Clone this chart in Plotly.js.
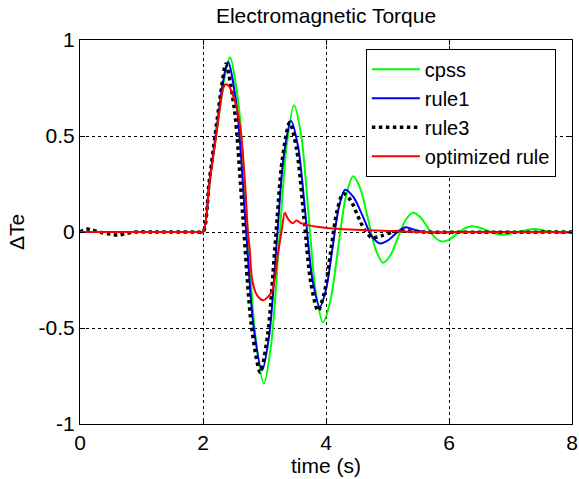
<!DOCTYPE html>
<html><head><meta charset="utf-8">
<script src="https://cdn.plot.ly/plotly-3.0.1.min.js"></script>
<style>body{margin:0;background:#fff}#c{width:579px;height:479px}</style>
</head><body><div id="c"></div>
<script>
// cpss (green)
const cpssT = [0,1,1.9,2.0,2.1,2.2,2.3,2.37,2.44,2.58,2.715,2.85,2.99,3.11,3.235,3.36,3.48,3.6,3.715,3.83,3.95,4.07,4.195,4.32,4.44,4.56,4.685,4.81,4.93,5.05,5.17,5.29,5.41,5.53,5.65,5.77,5.89,6.01,6.13,6.25,6.37,6.5,6.62,6.75,6.88,7.12,7.37,7.6,7.85,8.0];
const cpssY = [0,0,0,0,0.24,0.47,0.70,0.84,0.91,0.66,0.06,-0.54,-0.79,-0.58,-0.065,0.45,0.66,0.495,0.095,-0.305,-0.47,-0.36,-0.09,0.18,0.29,0.225,0.065,-0.095,-0.16,-0.12,-0.03,0.06,0.10,0.078,0.025,-0.028,-0.05,-0.038,-0.01,0.018,0.03,0.022,0.008,-0.008,-0.015,0,0.015,0.005,-0.005,0];
// rule1 (blue)
const rule1T = [0,1,1.9,2.0,2.1,2.2,2.3,2.36,2.41,2.55,2.685,2.82,2.96,3.08,3.195,3.31,3.43,3.55,3.665,3.78,3.9,4.0,4.105,4.21,4.31,4.45,4.6,4.74,4.88,5.0,5.1,5.2,5.3,5.45,5.6,5.8,6.2,8.0];
const rule1Y = [0,0,0,0,0.25,0.49,0.73,0.84,0.885,0.65,0.08,-0.485,-0.72,-0.53,-0.07,0.39,0.58,0.438,0.095,-0.248,-0.39,-0.30,-0.085,0.13,0.22,0.18,0.08,-0.02,-0.06,-0.045,-0.018,0.01,0.025,0.01,0,-0.003,0,0];
// rule3 (black dotted)
const rule3T = [0,0.1,0.2,0.35,0.5,0.62,0.75,0.9,1.2,1.9,2.0,2.1,2.2,2.3,2.37,2.51,2.65,2.79,2.93,3.05,3.17,3.29,3.41,3.525,3.64,3.755,3.87,3.97,4.075,4.18,4.28,4.4,4.515,4.63,4.75,4.9,5.1,5.3,5.6,8.0];
const rule3Y = [0,0.015,0.01,-0.003,-0.012,-0.016,-0.008,0,0,0,0,0.26,0.51,0.75,0.875,0.64,0.07,-0.495,-0.73,-0.54,-0.08,0.38,0.57,0.426,0.08,-0.267,-0.41,-0.32,-0.105,0.11,0.20,0.166,0.085,0.01,-0.03,-0.02,0,0.005,0,0];
// optimized rule (red)
const optT = [0,1,1.9,2.0,2.1,2.2,2.28,2.33,2.37,2.42,2.49,2.6,2.68,2.73,2.76,2.8,2.88,2.98,3.12,3.22,3.28,3.33,3.38,3.46,3.52,3.6,3.85,4.23,5.04,5.6,8.0];
const optY = [0,0,0,0,0.24,0.47,0.66,0.75,0.77,0.76,0.71,0.56,0.27,0,-0.09,-0.25,-0.33,-0.355,-0.31,-0.11,0.01,0.10,0.07,0.045,0.06,0.045,0.027,0.015,0.005,0,0];

const xTicks = [0,2,4,6,8];
const yTicks = [-1,-0.5,0,0.5,1];
const yTickText = ['-1','-0.5','0','0.5','1'];

const sp = {shape:'spline', smoothing:0.8};
const traces = [
  {x:cpssT, y:cpssY, name:'cpss', mode:'lines', line:Object.assign({color:'#00ff00', width:2}, sp)},
  {x:rule1T, y:rule1Y, name:'rule1', mode:'lines', line:Object.assign({color:'#0000ff', width:2}, sp)},
  {x:rule3T, y:rule3Y, name:'rule3', mode:'lines', line:Object.assign({color:'#000000', width:3.5, dash:'dot'}, sp)},
  {x:optT, y:optY, name:'optimized rule', mode:'lines', line:Object.assign({color:'#ff0000', width:2}, sp)}
];
const font = {family:'Liberation Sans, Arial, sans-serif', size:21, color:'#000'};
const ax = {showline:true, linecolor:'#000', linewidth:1, mirror:'ticks', ticks:'inside', ticklen:5, tickcolor:'#000',
  showgrid:true, gridcolor:'#000', gridwidth:1, griddash:'3px,3px', zeroline:false, tickfont:font};
const layout = {
  width:579, height:479,
  margin:{l:80, r:7, t:40, b:55},
  paper_bgcolor:'#fff', plot_bgcolor:'#fff',
  font:font,
  title:{text:'Electromagnetic Torque', font:font, x:0.5, xref:'paper', xanchor:'center', y:0.982, yanchor:'top'},
  xaxis:Object.assign({}, ax, {range:[0,8], tickvals:xTicks, ticktext:xTicks.map(String),
    title:{text:'time (s)', font:font, standoff:2}}),
  yaxis:Object.assign({}, ax, {range:[-1,1], tickvals:yTicks, ticktext:yTickText,
    title:{text:'ΔTe', font:font, standoff:8}}),
  showlegend:true,
  legend:{x:0.581, y:0.977, xanchor:'left', yanchor:'top', bgcolor:'#fff', bordercolor:'#000', borderwidth:1,
    font:{family:font.family, size:20, color:'#000'}, tracegroupgap:0, itemwidth:48},
};
Plotly.newPlot('c', traces, layout, {staticPlot:true});
</script></body></html>
